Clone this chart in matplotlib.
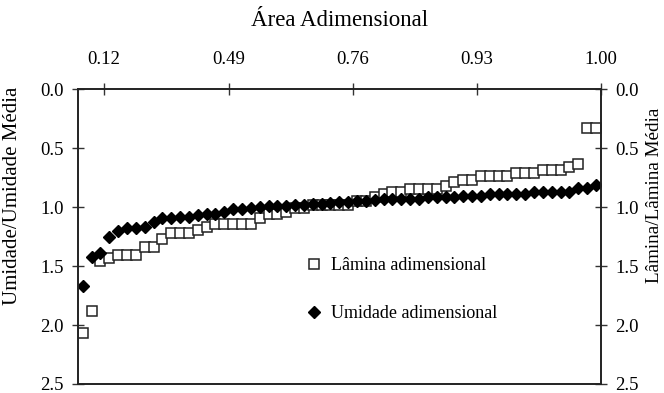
import matplotlib.pyplot as plt

# dados (ordenados)
lamina = [2.07, 1.88, 1.46, 1.43, 1.41, 1.41, 1.41, 1.34, 1.34, 1.27,
          1.22, 1.22, 1.22, 1.19, 1.165, 1.14, 1.14, 1.14, 1.14, 1.14,
          1.09, 1.055, 1.055, 1.04, 1.01, 1.01, 0.98, 0.98, 0.98, 0.98,
          0.98, 0.95, 0.95, 0.91, 0.89, 0.87, 0.87, 0.85, 0.85, 0.85,
          0.85, 0.825, 0.79, 0.77, 0.77, 0.74, 0.74, 0.74, 0.74, 0.71,
          0.71, 0.71, 0.685, 0.685, 0.685, 0.66, 0.635, 0.325, 0.325]
umidade = [1.67, 1.42, 1.385, 1.255, 1.205, 1.18, 1.18, 1.165, 1.13, 1.09,
           1.09, 1.08, 1.08, 1.065, 1.06, 1.06, 1.04, 1.02, 1.015, 1.005,
           1.0, 0.99, 0.99, 0.99, 0.985, 0.985, 0.97, 0.97, 0.965, 0.955,
           0.955, 0.945, 0.945, 0.94, 0.93, 0.93, 0.93, 0.93, 0.93, 0.91,
           0.91, 0.91, 0.91, 0.905, 0.905, 0.905, 0.89, 0.89, 0.89, 0.89,
           0.89, 0.876, 0.868, 0.868, 0.868, 0.868, 0.834, 0.834, 0.81]
area_labels = ["0.12", "0.49", "0.76", "0.93", "1.00"]
y_ticks = [0.0, 0.5, 1.0, 1.5, 2.0, 2.5]

pos = list(range(1, len(lamina) + 1))

plt.rcParams['font.family'] = ['Liberation Serif', 'DejaVu Serif']

fig = plt.figure(figsize=(6.64, 3.93), dpi=100)
ax = fig.add_axes([0.1175, 0.023, 0.7875, 0.75])

ax.plot(pos, lamina, linestyle='none', marker='s', markersize=6.5,
        markerfacecolor='white', markeredgecolor='#222222', markeredgewidth=1.1,
        label='Lâmina adimensional')
ax.plot(pos, umidade, linestyle='none', marker='D', markersize=5.7,
        markerfacecolor='black', markeredgecolor='black',
        label='Umidade adimensional')

ax.set_xlim(0.47, 59.56)
ax.set_ylim(2.5, 0.0)
ax.set_yticks(y_ticks)
ax.set_yticklabels([f"{v:.1f}" for v in y_ticks])
ax.set_ylabel('Umidade/Umidade Média', fontsize=15)
ax.yaxis.set_label_coords(-0.108, 0.64)

ax.xaxis.tick_top()
ax.xaxis.set_label_position('top')
ax.set_xticks([3.4, 17.5, 31.5, 45.5, 59.56])
ax.set_xticklabels(area_labels)
ax.set_xlabel('Área Adimensional', fontsize=16.5, labelpad=18)

ax.tick_params(axis='y', direction='inout', length=9, width=1,
               labelsize=13.5, color='#333333', pad=6)
ax.tick_params(axis='x', direction='inout', length=9, width=1,
               labelsize=13.5, color='#333333', pad=11)

ax2 = ax.twinx()
ax2.set_ylim(2.5, 0.0)
ax2.set_yticks(y_ticks)
ax2.set_yticklabels([f"{v:.1f}" for v in y_ticks])
ax2.set_ylabel('Lâmina/Lâmina Média', fontsize=13.8, rotation=90)
ax2.yaxis.set_label_coords(1.086, 0.64)
ax2.tick_params(axis='y', direction='inout', length=9, width=1,
                labelsize=13.5, color='#333333', pad=6)

for a in (ax, ax2):
    for s in a.spines.values():
        s.set_linewidth(1.2)
        s.set_color('#222222')

ax.legend(loc='center left', bbox_to_anchor=(0.40, 0.32), frameon=False,
          fontsize=13, labelspacing=1.7, handletextpad=0.3, handlelength=1.2)

fig.savefig('out.png', dpi=100)
